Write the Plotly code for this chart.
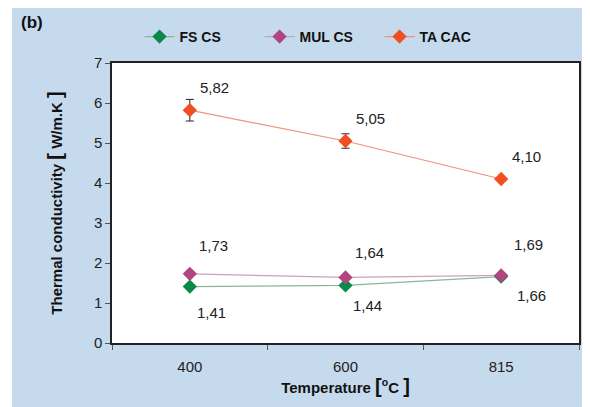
import plotly.graph_objects as go

temps = ["400", "600", "815"]
fs_cs = [1.41, 1.44, 1.66]
mul_cs = [1.73, 1.64, 1.69]
ta_cac = [5.82, 5.05, 4.10]
fs_err = [0.03, 0.04, 0.04]
mul_err = [0.06, 0.04, 0.04]
ta_err = [0.27, 0.18, 0.06]
fs_lbl = ["1,41", "1,44", "1,66"]
mul_lbl = ["1,73", "1,64", "1,69"]
ta_lbl = ["5,82", "5,05", "4,10"]

fig = go.Figure()
series = [
    ("FS CS", fs_cs, fs_err, "#8fb49a", "#0a8a4a"),
    ("MUL CS", mul_cs, mul_err, "#c9a3bd", "#b0457f"),
    ("TA CAC", ta_cac, ta_err, "#f2917f", "#f04e23"),
]
for name, ys, err, lc, mc in series:
    fig.add_trace(go.Scatter(
        x=temps, y=ys, name=name, mode="lines+markers",
        line=dict(color=lc, width=1.2),
        marker=dict(symbol="diamond", size=11, color=mc),
        error_y=dict(type="data", array=err, visible=True, color="#222", thickness=1, width=4),
    ))

ann = []
font = dict(family="Arial", size=15, color="#222")
for i, t in enumerate(temps):
    ann.append(dict(x=i, y=ta_cac[i], text=ta_lbl[i], showarrow=False, xshift=25, yshift=23, font=font))
    ann.append(dict(x=i, y=mul_cs[i], text=mul_lbl[i], showarrow=False, xshift=24 if i != 2 else 27, yshift=28 if i == 0 else (25 if i == 1 else 31), font=font))
    ann.append(dict(x=i, y=fs_cs[i], text=fs_lbl[i], showarrow=False, xshift=22 if i != 2 else 30, yshift=-26 if i == 0 else (-20 if i == 1 else -19), font=font))
ann.append(dict(xref="paper", yref="paper", x=-0.200, y=1.145, xanchor="left", yanchor="middle",
                text="<b>(b)</b>", showarrow=False, font=dict(family="Arial", size=17, color="#111")))

fig.update_layout(
    width=590, height=407,
    margin=dict(l=104, r=19, t=55, b=72, autoexpand=False),
    paper_bgcolor="white", plot_bgcolor="white",
    showlegend=True,
    legend=dict(orientation="h", x=0.059, y=1.093, xanchor="left", yanchor="middle",
                bgcolor="rgba(0,0,0,0)", font=dict(family="Arial", size=14, color="#111", weight="bold"),
                entrywidth=75, entrywidthmode="pixels", itemwidth=30),
    annotations=ann,
    shapes=[
        dict(type="rect", xref="paper", yref="paper", x0=-0.2141, x1=1.1, y0=-0.3, y1=1.25,
             fillcolor="#c6daee", line=dict(width=0), layer="below"),
        dict(type="rect", xref="paper", yref="paper", x0=0, x1=1, y0=0, y1=1,
             fillcolor="white", line=dict(width=0), layer="below"),
    ],
    xaxis=dict(
        type="category", range=[-0.5, 2.5], autorange=False,
        showgrid=False, showline=True, linecolor="#222", linewidth=1.5, mirror=True,
        ticks="outside", ticklen=5, tickcolor="#555", tickson="boundaries",
        ticklabelstandoff=9,
        tickfont=dict(family="Arial", size=15, color="#222"),
        title=dict(text="<b>Temperature <span style='font-size:20px'>[</span><sup>o</sup>C <span style='font-size:20px'>]</span></b>",
                   font=dict(family="Arial", size=15, color="#111"), standoff=6),
    ),
    yaxis=dict(
        range=[0, 7], dtick=1, showgrid=False, showline=True, linecolor="#222", linewidth=1.5, mirror=True,
        ticks="outside", ticklen=5, tickcolor="#555", zeroline=False,
        tickfont=dict(family="Arial", size=15, color="#222"),
        title=dict(text="<b>Thermal conductivity <span style='font-size:20px'>[</span> W/m.K <span style='font-size:20px'>]</span></b>",
                   font=dict(family="Arial", size=15, color="#111"), standoff=28),
    ),
)
fig.write_html("out.html")
